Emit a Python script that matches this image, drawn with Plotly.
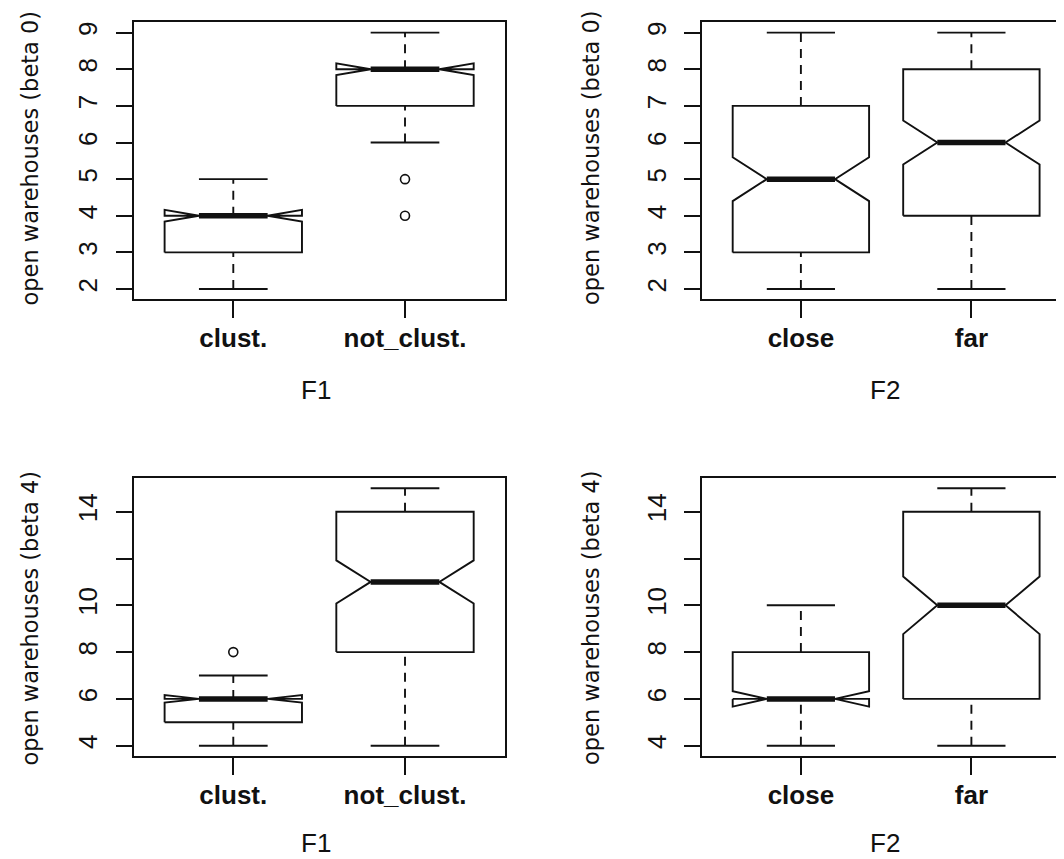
import plotly.graph_objects as go

# ---------------- data ----------------
# Panel 1: F1 vs open warehouses (beta 0)
p1_cats = ["clust.", "not_clust."]
p1_low = [2, 6]
p1_q1 = [3, 7]
p1_med = [4, 8]
p1_q3 = [4, 8]
p1_high = [5, 9]
p1_notch_lo = [3.84, 7.84]
p1_notch_hi = [4.16, 8.16]
p1_out = [[], [5, 4]]

# Panel 2: F2 vs open warehouses (beta 0)
p2_cats = ["close", "far"]
p2_low = [2, 2]
p2_q1 = [3, 4]
p2_med = [5, 6]
p2_q3 = [7, 8]
p2_high = [9, 9]
p2_notch_lo = [4.4, 5.4]
p2_notch_hi = [5.6, 6.6]
p2_out = [[], []]

# Panel 3: F1 vs open warehouses (beta 4)
p3_cats = ["clust.", "not_clust."]
p3_low = [4, 4]
p3_q1 = [5, 8]
p3_med = [6, 11]
p3_q3 = [6, 14]
p3_high = [7, 15]
p3_notch_lo = [5.84, 10.08]
p3_notch_hi = [6.16, 11.92]
p3_out = [[8], []]

# Panel 4: F2 vs open warehouses (beta 4)
p4_cats = ["close", "far"]
p4_low = [4, 4]
p4_q1 = [6, 6]
p4_med = [6, 10]
p4_q3 = [8, 14]
p4_high = [10, 15]
p4_notch_lo = [5.67, 8.77]
p4_notch_hi = [6.33, 11.23]
p4_out = [[], []]

top_yticks = [2, 3, 4, 5, 6, 7, 8, 9]
top_yticklabels = ["2", "3", "4", "5", "6", "7", "8", "9"]
bot_yticks = [4, 6, 8, 10, 12, 14]
bot_yticklabels = ["4", "6", "8", "10", "", "14"]

ytitle_top = "open warehouses (beta 0)"
ytitle_bot = "open warehouses (beta 4)"
xtitle_f1 = "F1"
xtitle_f2 = "F2"

# ---------------- styling ----------------
PAGE_W, PAGE_H = 1064, 859
BODY = 8                      # default body margin of the html page
W, H = PAGE_W - BODY, PAGE_H - BODY


def px(xp):
    return (xp - BODY) / W


def py(yp):
    return 1 - (yp - BODY) / H


INK = "#111111"
BOX_HW = 0.4      # half box width (boxwex 0.8)
NOTCH_FRAC = 0.5
STAPLE = 0.5
LW = 1.9
MED_LW = 5.5
TICK_FONT = dict(family="Liberation Sans, Arial, sans-serif", size=26, color=INK)
XTICK_FONT = dict(family="Liberation Sans, Arial, sans-serif", size=26, color=INK, weight="bold")
TITLE_FONT = dict(family="DejaVu Sans, sans-serif", size=22.5, color=INK)
XTITLE_FONT = dict(family="Liberation Sans, Arial, sans-serif", size=26, color=INK)

fig = go.Figure()


def add_panel(n, cats, low, q1, med, q3, high, nlo, nhi, outs):
    xa = "x" if n == 1 else f"x{n}"
    ya = "y" if n == 1 else f"y{n}"
    wx, wy, cx, cy = [], [], [], []
    bx, by, mx, my, ox, oy = [], [], [], [], [], []
    for i in range(len(cats)):
        p = i + 1
        # whiskers
        wx += [p, p, None, p, p, None]
        wy += [low[i], q1[i], None, q3[i], high[i], None]
        # staples
        s = BOX_HW * STAPLE
        cx += [p - s, p + s, None, p - s, p + s, None]
        cy += [low[i], low[i], None, high[i], high[i], None]
        # notched box polygon (R bxp order)
        bx += [p - BOX_HW, p + BOX_HW, p + BOX_HW, p + BOX_HW * NOTCH_FRAC, p + BOX_HW,
               p + BOX_HW, p - BOX_HW, p - BOX_HW, p - BOX_HW * NOTCH_FRAC, p - BOX_HW,
               p - BOX_HW, None]
        by += [q1[i], q1[i], nlo[i], med[i], nhi[i], q3[i], q3[i], nhi[i], med[i], nlo[i],
               q1[i], None]
        # median
        mx += [p - BOX_HW * NOTCH_FRAC, p + BOX_HW * NOTCH_FRAC, None]
        my += [med[i], med[i], None]
        for v in outs[i]:
            ox.append(p)
            oy.append(v)
    common = dict(xaxis=xa, yaxis=ya, showlegend=False, hoverinfo="skip")
    fig.add_trace(go.Scatter(x=wx, y=wy, mode="lines",
                             line=dict(color=INK, width=LW, dash="9px,7px"), **common))
    fig.add_trace(go.Scatter(x=cx, y=cy, mode="lines",
                             line=dict(color=INK, width=LW), **common))
    fig.add_trace(go.Scatter(x=bx, y=by, mode="lines", fill="toself", fillcolor="white",
                             line=dict(color=INK, width=LW), **common))
    fig.add_trace(go.Scatter(x=mx, y=my, mode="lines",
                             line=dict(color=INK, width=MED_LW), **common))
    if ox:
        fig.add_trace(go.Scatter(x=ox, y=oy, mode="markers",
                                 marker=dict(symbol="circle-open", size=9,
                                             color=INK, line=dict(width=1.6)), **common))


add_panel(1, p1_cats, p1_low, p1_q1, p1_med, p1_q3, p1_high, p1_notch_lo, p1_notch_hi, p1_out)
add_panel(2, p2_cats, p2_low, p2_q1, p2_med, p2_q3, p2_high, p2_notch_lo, p2_notch_hi, p2_out)
add_panel(3, p3_cats, p3_low, p3_q1, p3_med, p3_q3, p3_high, p3_notch_lo, p3_notch_hi, p3_out)
add_panel(4, p4_cats, p4_low, p4_q1, p4_med, p4_q3, p4_high, p4_notch_lo, p4_notch_hi, p4_out)

# ---------------- axes (page-pixel positions converted to paper fractions) ----------------
left_dom = [px(133.7), px(504.6)]
right_dom = [px(702.0), 1.0]
top_dom = [py(299.3), py(22.4)]
bot_dom = [py(756.0), py(478.0)]
left_rng = [0.42, 2.58]
right_rng = [0.42, 0.42 + (PAGE_W - 702.0) / 170.5]


def xaxis(dom, rng, cats, anchor):
    return dict(domain=dom, range=rng, anchor=anchor, tickmode="array",
                tickvals=[1, 2], ticktext=cats, ticks="outside", ticklen=17,
                tickwidth=LW, tickcolor=INK, showline=True, linewidth=LW,
                linecolor=INK, mirror=True, showgrid=False, zeroline=False,
                tickfont=XTICK_FONT, ticklabelstandoff=-2, fixedrange=True)


def yaxis(dom, rng, tv, tt, anchor, mirror):
    return dict(domain=dom, range=rng, anchor=anchor, tickmode="array",
                tickvals=tv, ticktext=tt, ticks="outside", ticklen=16,
                tickwidth=LW, tickcolor=INK, showline=True, linewidth=LW,
                linecolor=INK, mirror=mirror, showgrid=False, zeroline=False,
                tickangle=-90, tickfont=TICK_FONT, ticklabelstandoff=8,
                fixedrange=True)


fig.update_layout(
    width=W, height=H, margin=dict(l=0, r=0, t=0, b=0),
    paper_bgcolor="white", plot_bgcolor="white",
    xaxis=xaxis(left_dom, left_rng, p1_cats, "y"),
    yaxis=yaxis(top_dom, [1.72, 9.28], top_yticks, top_yticklabels, "x", True),
    xaxis2=xaxis(right_dom, right_rng, p2_cats, "y2"),
    yaxis2=yaxis(top_dom, [1.72, 9.28], top_yticks, top_yticklabels, "x2", False),
    xaxis3=xaxis(left_dom, left_rng, p3_cats, "y3"),
    yaxis3=yaxis(bot_dom, [3.56, 15.44], bot_yticks, bot_yticklabels, "x3", True),
    xaxis4=xaxis(right_dom, right_rng, p4_cats, "y4"),
    yaxis4=yaxis(bot_dom, [3.56, 15.44], bot_yticks, bot_yticklabels, "x4", False),
)

ann = []
for xp, yp, txt in [(29.5, 158, ytitle_top), (591, 158, ytitle_top),
                    (29.5, 618, ytitle_bot), (591, 618, ytitle_bot)]:
    ann.append(dict(x=px(xp), y=py(yp), xref="paper", yref="paper", text=txt,
                    textangle=-90, showarrow=False, font=TITLE_FONT,
                    xanchor="center", yanchor="middle"))
for xp, yp, txt in [(316, 390, xtitle_f1), (885, 390, xtitle_f2)]:
    ann.append(dict(x=px(xp), y=py(yp), xref="paper", yref="paper", text=txt,
                    showarrow=False, font=XTITLE_FONT,
                    xanchor="center", yanchor="middle"))
for xp, txt in [(316, xtitle_f1), (885, xtitle_f2)]:
    ann.append(dict(x=px(xp), y=0, xref="paper", yref="paper", text=txt,
                    showarrow=False, font=XTITLE_FONT, borderpad=0,
                    xanchor="center", yanchor="bottom"))
fig.update_layout(annotations=ann)

fig.write_html("out.html")
